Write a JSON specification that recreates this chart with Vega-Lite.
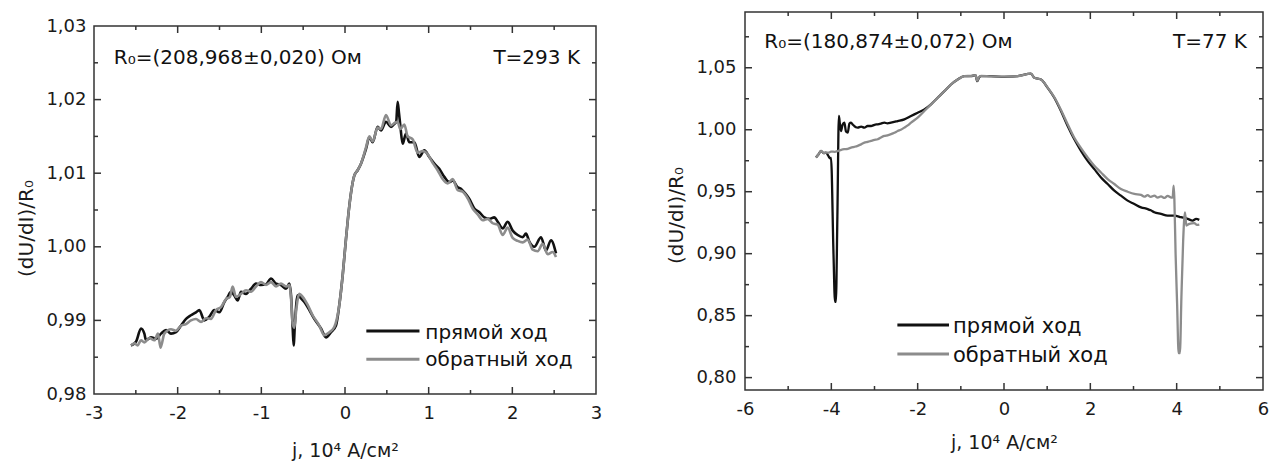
{
  "$schema": "https://vega.github.io/schema/vega-lite/v6.json",
  "background": "white",
  "padding": {"left": 15, "top": 10, "right": 3, "bottom": 3},
  "spacing": 62,
  "config": {
    "view": {"stroke": "#333333", "strokeWidth": 1.5},
    "font": "DejaVu Sans",
    "axis": {"labelFont": "DejaVu Sans", "titleFont": "DejaVu Sans", "ticks": false, "tickSize": 0, "domain": false, "grid": false, "labelColor": "#1a1a1a", "titleColor": "#1a1a1a", "titleFontWeight": "normal", "labelFlush": false, "labelOverlap": false}
  },
  "datasets": {
    "lxM": [{"t":-2},{"t":-1},{"t":0},{"t":1},{"t":2}],
    "lxm": [{"t":-2.5},{"t":-1.5},{"t":-0.5},{"t":0.5},{"t":1.5},{"t":2.5}],
    "lyM": [{"t":0.99},{"t":1.0},{"t":1.01},{"t":1.02}],
    "lym": [{"t":0.985},{"t":0.995},{"t":1.005},{"t":1.015},{"t":1.025}],
    "rxM": [{"t":-4},{"t":-2},{"t":0},{"t":2},{"t":4}],
    "rxm": [{"t":-5},{"t":-3},{"t":-1},{"t":1},{"t":3},{"t":5}],
    "ryM": [{"t":0.8},{"t":0.85},{"t":0.9},{"t":0.95},{"t":1.0},{"t":1.05}],
    "rym": [{"t":0.825},{"t":0.875},{"t":0.925},{"t":0.975},{"t":1.025},{"t":1.075}],
    "lf": [
      {"j":-2.558,"v":0.9866},{"j":-2.498,"v":0.9871},{"j":-2.438,"v":0.9889},{"j":-2.398,"v":0.9882},{"j":-2.378,"v":0.9873},{"j":-2.319,"v":0.9877},{"j":-2.259,"v":0.9875},{"j":-2.199,"v":0.9882},{"j":-2.139,"v":0.9887},{"j":-2.080,"v":0.9882},{"j":-2.020,"v":0.9884},{"j":-1.960,"v":0.9893},{"j":-1.900,"v":0.9902},{"j":-1.841,"v":0.9907},{"j":-1.781,"v":0.9911},{"j":-1.741,"v":0.9914},{"j":-1.681,"v":0.9900},{"j":-1.621,"v":0.9905},{"j":-1.562,"v":0.9914},{"j":-1.502,"v":0.9911},{"j":-1.442,"v":0.9925},{"j":-1.402,"v":0.9932},{"j":-1.363,"v":0.9939},{"j":-1.323,"v":0.9934},{"j":-1.283,"v":0.9927},{"j":-1.243,"v":0.9939},{"j":-1.183,"v":0.9936},{"j":-1.123,"v":0.9943},{"j":-1.064,"v":0.9950},{"j":-1.004,"v":0.9948},{"j":-0.944,"v":0.9949},{"j":-0.884,"v":0.9957},{"j":-0.825,"v":0.9950},{"j":-0.765,"v":0.9948},{"j":-0.705,"v":0.9943},{"j":-0.665,"v":0.9950},{"j":-0.645,"v":0.9934},{"j":-0.625,"v":0.9889},{"j":-0.614,"v":0.9866},{"j":-0.598,"v":0.9897},{"j":-0.566,"v":0.9934},{"j":-0.526,"v":0.9930},{"j":-0.486,"v":0.9925},{"j":-0.426,"v":0.9914},{"j":-0.367,"v":0.9902},{"j":-0.287,"v":0.9889},{"j":-0.227,"v":0.9877},{"j":-0.167,"v":0.9884},{"j":-0.108,"v":0.9893},{"j":-0.068,"v":0.9921},{"j":-0.028,"v":0.9961},{"j":0.012,"v":1.0011},{"j":0.052,"v":1.0056},{"j":0.112,"v":1.0097},{"j":0.151,"v":1.0104},{"j":0.191,"v":1.0113},{"j":0.251,"v":1.0133},{"j":0.291,"v":1.0149},{"j":0.331,"v":1.0142},{"j":0.390,"v":1.0163},{"j":0.430,"v":1.0158},{"j":0.490,"v":1.0170},{"j":0.550,"v":1.0163},{"j":0.590,"v":1.0167},{"j":0.612,"v":1.0170},{"j":0.629,"v":1.0197},{"j":0.645,"v":1.0182},{"j":0.661,"v":1.0165},{"j":0.689,"v":1.0140},{"j":0.729,"v":1.0154},{"j":0.769,"v":1.0142},{"j":0.829,"v":1.0142},{"j":0.888,"v":1.0122},{"j":0.948,"v":1.0131},{"j":1.008,"v":1.0122},{"j":1.068,"v":1.0113},{"j":1.127,"v":1.0106},{"j":1.187,"v":1.0095},{"j":1.247,"v":1.0088},{"j":1.287,"v":1.0090},{"j":1.347,"v":1.0081},{"j":1.386,"v":1.0079},{"j":1.426,"v":1.0074},{"j":1.486,"v":1.0065},{"j":1.546,"v":1.0052},{"j":1.606,"v":1.0047},{"j":1.665,"v":1.0040},{"j":1.725,"v":1.0038},{"j":1.785,"v":1.0040},{"j":1.825,"v":1.0034},{"j":1.885,"v":1.0025},{"j":1.944,"v":1.0034},{"j":2.004,"v":1.0022},{"j":2.064,"v":1.0016},{"j":2.124,"v":1.0013},{"j":2.163,"v":1.0018},{"j":2.203,"v":1.0007},{"j":2.263,"v":1.0000},{"j":2.343,"v":1.0013},{"j":2.402,"v":0.9995},{"j":2.462,"v":1.0009},{"j":2.522,"v":0.9991}
    ],
    "lr": [
      {"j":-2.558,"v":0.9866},{"j":-2.518,"v":0.9869},{"j":-2.478,"v":0.9866},{"j":-2.438,"v":0.9873},{"j":-2.398,"v":0.9870},{"j":-2.338,"v":0.9876},{"j":-2.278,"v":0.9873},{"j":-2.235,"v":0.9882},{"j":-2.205,"v":0.9863},{"j":-2.159,"v":0.9882},{"j":-2.080,"v":0.9888},{"j":-2.020,"v":0.9886},{"j":-1.960,"v":0.9893},{"j":-1.900,"v":0.9895},{"j":-1.841,"v":0.9900},{"j":-1.781,"v":0.9902},{"j":-1.721,"v":0.9898},{"j":-1.661,"v":0.9903},{"j":-1.602,"v":0.9902},{"j":-1.542,"v":0.9914},{"j":-1.482,"v":0.9918},{"j":-1.422,"v":0.9929},{"j":-1.375,"v":0.9932},{"j":-1.343,"v":0.9946},{"j":-1.303,"v":0.9932},{"j":-1.243,"v":0.9936},{"j":-1.183,"v":0.9941},{"j":-1.123,"v":0.9939},{"j":-1.064,"v":0.9946},{"j":-1.004,"v":0.9952},{"j":-0.944,"v":0.9948},{"j":-0.884,"v":0.9952},{"j":-0.825,"v":0.9946},{"j":-0.765,"v":0.9950},{"j":-0.705,"v":0.9946},{"j":-0.665,"v":0.9948},{"j":-0.645,"v":0.9930},{"j":-0.625,"v":0.9895},{"j":-0.605,"v":0.9890},{"j":-0.585,"v":0.9912},{"j":-0.546,"v":0.9936},{"j":-0.506,"v":0.9932},{"j":-0.446,"v":0.9921},{"j":-0.387,"v":0.9907},{"j":-0.307,"v":0.9893},{"j":-0.247,"v":0.9880},{"j":-0.187,"v":0.9884},{"j":-0.128,"v":0.9891},{"j":-0.068,"v":0.9921},{"j":-0.028,"v":0.9961},{"j":0.012,"v":1.0011},{"j":0.052,"v":1.0056},{"j":0.112,"v":1.0097},{"j":0.151,"v":1.0104},{"j":0.191,"v":1.0113},{"j":0.251,"v":1.0135},{"j":0.291,"v":1.0150},{"j":0.331,"v":1.0143},{"j":0.390,"v":1.0162},{"j":0.430,"v":1.0160},{"j":0.490,"v":1.0179},{"j":0.550,"v":1.0165},{"j":0.590,"v":1.0168},{"j":0.629,"v":1.0170},{"j":0.661,"v":1.0160},{"j":0.709,"v":1.0166},{"j":0.749,"v":1.0150},{"j":0.809,"v":1.0146},{"j":0.868,"v":1.0128},{"j":0.928,"v":1.0130},{"j":0.988,"v":1.0126},{"j":1.048,"v":1.0114},{"j":1.107,"v":1.0104},{"j":1.167,"v":1.0092},{"j":1.227,"v":1.0086},{"j":1.287,"v":1.0092},{"j":1.347,"v":1.0077},{"j":1.406,"v":1.0075},{"j":1.466,"v":1.0066},{"j":1.526,"v":1.0052},{"j":1.586,"v":1.0044},{"j":1.646,"v":1.0036},{"j":1.705,"v":1.0038},{"j":1.765,"v":1.0032},{"j":1.825,"v":1.0030},{"j":1.885,"v":1.0016},{"j":1.944,"v":1.0026},{"j":2.004,"v":1.0012},{"j":2.064,"v":1.0008},{"j":2.124,"v":1.0006},{"j":2.183,"v":1.0010},{"j":2.243,"v":0.9996},{"j":2.303,"v":0.9994},{"j":2.363,"v":1.0004},{"j":2.422,"v":0.9990},{"j":2.482,"v":0.9993},{"j":2.522,"v":0.9986}
    ],
    "rf": [
      {"j":-4.355,"v":0.9776},{"j":-4.300,"v":0.9800},{"j":-4.239,"v":0.9830},{"j":-4.180,"v":0.9812},{"j":-4.123,"v":0.9816},{"j":-4.069,"v":0.9789},{"j":-4.030,"v":0.9770},{"j":-4.007,"v":0.9772},{"j":-3.950,"v":0.9000},{"j":-3.915,"v":0.8611},{"j":-3.895,"v":0.8611},{"j":-3.860,"v":0.9300},{"j":-3.825,"v":1.0111},{"j":-3.800,"v":1.0040},{"j":-3.776,"v":0.9990},{"j":-3.740,"v":1.0040},{"j":-3.699,"v":1.0057},{"j":-3.660,"v":0.9985},{"j":-3.621,"v":0.9977},{"j":-3.580,"v":1.0050},{"j":-3.544,"v":1.0057},{"j":-3.500,"v":1.0040},{"j":-3.467,"v":1.0030},{"j":-3.430,"v":1.0020},{"j":-3.390,"v":1.0017},{"j":-3.310,"v":1.0025},{"j":-3.235,"v":1.0017},{"j":-3.160,"v":1.0030},{"j":-3.081,"v":1.0030},{"j":-3.000,"v":1.0040},{"j":-2.926,"v":1.0044},{"j":-2.850,"v":1.0050},{"j":-2.772,"v":1.0057},{"j":-2.700,"v":1.0052},{"j":-2.618,"v":1.0057},{"j":-2.463,"v":1.0070},{"j":-2.309,"v":1.0084},{"j":-2.154,"v":1.0111},{"j":-2.000,"v":1.0137},{"j":-1.845,"v":1.0164},{"j":-1.691,"v":1.0205},{"j":-1.537,"v":1.0258},{"j":-1.382,"v":1.0311},{"j":-1.228,"v":1.0365},{"j":-1.073,"v":1.0405},{"j":-0.919,"v":1.0432},{"j":-0.764,"v":1.0432},{"j":-0.660,"v":1.0440},{"j":-0.620,"v":1.0392},{"j":-0.580,"v":1.0420},{"j":-0.533,"v":1.0432},{"j":-0.301,"v":1.0432},{"j":0.008,"v":1.0426},{"j":0.317,"v":1.0432},{"j":0.625,"v":1.0453},{"j":0.703,"v":1.0419},{"j":0.857,"v":1.0405},{"j":1.012,"v":1.0338},{"j":1.166,"v":1.0258},{"j":1.320,"v":1.0151},{"j":1.475,"v":1.0030},{"j":1.629,"v":0.9923},{"j":1.784,"v":0.9830},{"j":1.938,"v":0.9749},{"j":2.092,"v":0.9682},{"j":2.247,"v":0.9615},{"j":2.401,"v":0.9562},{"j":2.556,"v":0.9508},{"j":2.710,"v":0.9468},{"j":2.864,"v":0.9428},{"j":3.019,"v":0.9401},{"j":3.174,"v":0.9374},{"j":3.328,"v":0.9360},{"j":3.400,"v":0.9350},{"j":3.482,"v":0.9334},{"j":3.637,"v":0.9321},{"j":3.791,"v":0.9307},{"j":3.946,"v":0.9307},{"j":4.100,"v":0.9294},{"j":4.255,"v":0.9281},{"j":4.370,"v":0.9267},{"j":4.450,"v":0.9281},{"j":4.524,"v":0.9273}
    ],
    "rr": [
      {"j":-4.355,"v":0.9776},{"j":-4.300,"v":0.9800},{"j":-4.239,"v":0.9830},{"j":-4.180,"v":0.9812},{"j":-4.123,"v":0.9816},{"j":-4.060,"v":0.9815},{"j":-4.007,"v":0.9824},{"j":-3.920,"v":0.9822},{"j":-3.838,"v":0.9830},{"j":-3.770,"v":0.9838},{"j":-3.699,"v":0.9843},{"j":-3.620,"v":0.9846},{"j":-3.544,"v":0.9856},{"j":-3.470,"v":0.9862},{"j":-3.390,"v":0.9870},{"j":-3.310,"v":0.9882},{"j":-3.235,"v":0.9896},{"j":-3.160,"v":0.9902},{"j":-3.081,"v":0.9910},{"j":-3.000,"v":0.9918},{"j":-2.926,"v":0.9923},{"j":-2.850,"v":0.9938},{"j":-2.772,"v":0.9950},{"j":-2.700,"v":0.9955},{"j":-2.618,"v":0.9964},{"j":-2.540,"v":0.9975},{"j":-2.463,"v":0.9990},{"j":-2.390,"v":1.0000},{"j":-2.309,"v":1.0017},{"j":-2.230,"v":1.0035},{"j":-2.154,"v":1.0057},{"j":-2.000,"v":1.0097},{"j":-1.845,"v":1.0151},{"j":-1.691,"v":1.0205},{"j":-1.537,"v":1.0258},{"j":-1.382,"v":1.0311},{"j":-1.228,"v":1.0365},{"j":-1.073,"v":1.0405},{"j":-0.919,"v":1.0432},{"j":-0.764,"v":1.0435},{"j":-0.660,"v":1.0440},{"j":-0.620,"v":1.0395},{"j":-0.580,"v":1.0425},{"j":-0.533,"v":1.0435},{"j":-0.301,"v":1.0430},{"j":0.008,"v":1.0428},{"j":0.317,"v":1.0432},{"j":0.625,"v":1.0453},{"j":0.703,"v":1.0419},{"j":0.857,"v":1.0405},{"j":1.012,"v":1.0340},{"j":1.166,"v":1.0262},{"j":1.320,"v":1.0160},{"j":1.475,"v":1.0045},{"j":1.629,"v":0.9935},{"j":1.784,"v":0.9851},{"j":1.938,"v":0.9776},{"j":2.092,"v":0.9709},{"j":2.247,"v":0.9655},{"j":2.401,"v":0.9602},{"j":2.556,"v":0.9562},{"j":2.710,"v":0.9522},{"j":2.864,"v":0.9500},{"j":3.019,"v":0.9482},{"j":3.174,"v":0.9474},{"j":3.250,"v":0.9460},{"j":3.328,"v":0.9472},{"j":3.400,"v":0.9458},{"j":3.482,"v":0.9468},{"j":3.560,"v":0.9452},{"j":3.637,"v":0.9462},{"j":3.720,"v":0.9450},{"j":3.791,"v":0.9466},{"j":3.880,"v":0.9452},{"j":3.907,"v":0.9455},{"j":3.930,"v":0.9548},{"j":3.946,"v":0.9450},{"j":3.975,"v":0.9000},{"j":4.010,"v":0.8600},{"j":4.045,"v":0.8197},{"j":4.075,"v":0.8197},{"j":4.110,"v":0.8650},{"j":4.150,"v":0.9100},{"j":4.193,"v":0.9334},{"j":4.224,"v":0.9227},{"j":4.293,"v":0.9241},{"j":4.409,"v":0.9246},{"j":4.470,"v":0.9232},{"j":4.524,"v":0.9235}
    ]
  },
  "hconcat": [
    {
      "spacing": 0,
      "vconcat": [
        {
          "width": 502,
          "height": 4,
          "view": {"stroke": null, "fill": "#ffffff"},
          "data": {"values": []},
          "mark": "point"
        },
        {
          "width": 502,
          "height": 368,
          "layer": [
            {
              "data": {"name": "lf"},
              "mark": {"type": "line", "color": "#111111", "strokeWidth": 2.6, "interpolate": "monotone"},
              "encoding": {
                "x": {"field": "j", "type": "quantitative", "scale": {"domain": [-3, 3], "nice": false, "zero": false},
                  "axis": {"orient": "bottom", "values": [-3, -2, -1, 0, 1, 2, 3], "labelExpr": "'' + datum.value", "labelFontSize": 18, "labelPadding": 10, "title": "j, 10⁴ A/см²", "titleFontSize": 19, "titleY": 62, "titleBaseline": "alphabetic"}},
                "y": {"field": "v", "type": "quantitative", "scale": {"domain": [0.98, 1.03], "nice": false, "zero": false},
                  "axis": {"orient": "left", "values": [0.98, 0.99, 1.0, 1.01, 1.02, 1.03], "labelExpr": "replace(format(datum.value, '.2f'), '.', ',')", "labelFontSize": 18, "labelPadding": 8, "title": "(dU/dI)/R₀", "titleFontSize": 20, "titleX": -68, "titleY": 202, "titleBaseline": "middle"}}
              }
            },
            {
              "data": {"name": "lr"},
              "mark": {"type": "line", "color": "#8c8c8c", "strokeWidth": 2.6, "interpolate": "monotone"},
              "encoding": {
                "x": {"field": "j", "type": "quantitative", "axis": null},
                "y": {"field": "v", "type": "quantitative", "axis": null}
              }
            },
            {"data": {"name": "lxM"}, "mark": {"type": "rule", "color": "#333333", "strokeWidth": 1.5},
             "encoding": {"x": {"field": "t", "type": "quantitative", "axis": null}, "y": {"datum": 0.98, "type": "quantitative", "axis": null}, "y2": {"datum": 0.98095}}},
            {"data": {"name": "lxM"}, "mark": {"type": "rule", "color": "#333333", "strokeWidth": 1.5},
             "encoding": {"x": {"field": "t", "type": "quantitative", "axis": null}, "y": {"datum": 1.03, "type": "quantitative", "axis": null}, "y2": {"datum": 1.02905}}},
            {"data": {"name": "lxm"}, "mark": {"type": "rule", "color": "#333333", "strokeWidth": 1.5},
             "encoding": {"x": {"field": "t", "type": "quantitative", "axis": null}, "y": {"datum": 0.98, "type": "quantitative", "axis": null}, "y2": {"datum": 0.98054}}},
            {"data": {"name": "lxm"}, "mark": {"type": "rule", "color": "#333333", "strokeWidth": 1.5},
             "encoding": {"x": {"field": "t", "type": "quantitative", "axis": null}, "y": {"datum": 1.03, "type": "quantitative", "axis": null}, "y2": {"datum": 1.02946}}},
            {"data": {"name": "lyM"}, "mark": {"type": "rule", "color": "#333333", "strokeWidth": 1.5},
             "encoding": {"y": {"field": "t", "type": "quantitative", "axis": null}, "x": {"datum": -3, "type": "quantitative", "axis": null}, "x2": {"datum": -2.9163}}},
            {"data": {"name": "lyM"}, "mark": {"type": "rule", "color": "#333333", "strokeWidth": 1.5},
             "encoding": {"y": {"field": "t", "type": "quantitative", "axis": null}, "x": {"datum": 3, "type": "quantitative", "axis": null}, "x2": {"datum": 2.9163}}},
            {"data": {"name": "lym"}, "mark": {"type": "rule", "color": "#333333", "strokeWidth": 1.5},
             "encoding": {"y": {"field": "t", "type": "quantitative", "axis": null}, "x": {"datum": -3, "type": "quantitative", "axis": null}, "x2": {"datum": -2.9522}}},
            {"data": {"name": "lym"}, "mark": {"type": "rule", "color": "#333333", "strokeWidth": 1.5},
             "encoding": {"y": {"field": "t", "type": "quantitative", "axis": null}, "x": {"datum": 3, "type": "quantitative", "axis": null}, "x2": {"datum": 2.9522}}},
            {
              "data": {"values": [{}]},
              "mark": {"type": "text", "text": "R₀=(208,968±0,020) Ом", "align": "left", "baseline": "alphabetic", "fontSize": 20, "color": "#111111"},
              "encoding": {"x": {"datum": -2.764, "type": "quantitative", "axis": null}, "y": {"datum": 1.0249, "type": "quantitative", "axis": null}}
            },
            {
              "data": {"values": [{}]},
              "mark": {"type": "text", "text": "T=293 K", "align": "right", "baseline": "alphabetic", "fontSize": 20, "color": "#111111"},
              "encoding": {"x": {"datum": 2.809, "type": "quantitative", "axis": null}, "y": {"datum": 1.0249, "type": "quantitative", "axis": null}}
            },
            {
              "data": {"values": [{}]},
              "mark": {"type": "rule", "color": "#111111", "strokeWidth": 3},
              "encoding": {"x": {"datum": 0.255, "type": "quantitative", "axis": null}, "x2": {"datum": 0.89}, "y": {"datum": 0.98856, "type": "quantitative", "axis": null}}
            },
            {
              "data": {"values": [{}]},
              "mark": {"type": "rule", "color": "#8c8c8c", "strokeWidth": 3},
              "encoding": {"x": {"datum": 0.255, "type": "quantitative", "axis": null}, "x2": {"datum": 0.89}, "y": {"datum": 0.98471, "type": "quantitative", "axis": null}}
            },
            {
              "data": {"values": [{}]},
              "mark": {"type": "text", "text": "прямой ход", "align": "left", "baseline": "alphabetic", "fontSize": 20, "color": "#111111"},
              "encoding": {"x": {"datum": 0.96, "type": "quantitative", "axis": null}, "y": {"datum": 0.98747, "type": "quantitative", "axis": null}}
            },
            {
              "data": {"values": [{}]},
              "mark": {"type": "text", "text": "обратный ход", "align": "left", "baseline": "alphabetic", "fontSize": 20, "color": "#111111"},
              "encoding": {"x": {"datum": 0.96, "type": "quantitative", "axis": null}, "y": {"datum": 0.98376, "type": "quantitative", "axis": null}}
            }
          ],
          "resolve": {"axis": {"x": "independent", "y": "independent"}}
        }
      ]
    },
    {
      "width": 518,
      "height": 378,
      "layer": [
        {
          "data": {"name": "rf"},
          "mark": {"type": "line", "color": "#111111", "strokeWidth": 2.3, "interpolate": "monotone"},
          "encoding": {
            "x": {"field": "j", "type": "quantitative", "scale": {"domain": [-6, 6], "nice": false, "zero": false},
              "axis": {"orient": "bottom", "values": [-6, -4, -2, 0, 2, 4, 6], "labelExpr": "'' + datum.value", "labelFontSize": 18, "labelPadding": 10, "title": "j, 10⁴ A/см²", "titleFontSize": 19, "titleY": 58, "titleBaseline": "alphabetic"}},
            "y": {"field": "v", "type": "quantitative", "scale": {"domain": [0.79, 1.095], "nice": false, "zero": false},
              "axis": {"orient": "left", "values": [0.8, 0.85, 0.9, 0.95, 1.0, 1.05], "labelExpr": "replace(format(datum.value, '.2f'), '.', ',')", "labelFontSize": 18, "labelPadding": 9, "title": "(dU/dI)/R₀", "titleFontSize": 20, "titleX": -68.5, "titleY": 203, "titleBaseline": "middle"}}
          }
        },
        {
          "data": {"name": "rr"},
          "mark": {"type": "line", "color": "#8c8c8c", "strokeWidth": 2.3, "interpolate": "monotone"},
          "encoding": {
            "x": {"field": "j", "type": "quantitative", "axis": null},
            "y": {"field": "v", "type": "quantitative", "axis": null}
          }
        },
        {"data": {"name": "rxM"}, "mark": {"type": "rule", "color": "#333333", "strokeWidth": 1.5},
         "encoding": {"x": {"field": "t", "type": "quantitative", "axis": null}, "y": {"datum": 0.79, "type": "quantitative", "axis": null}, "y2": {"datum": 0.79565}}},
        {"data": {"name": "rxM"}, "mark": {"type": "rule", "color": "#333333", "strokeWidth": 1.5},
         "encoding": {"x": {"field": "t", "type": "quantitative", "axis": null}, "y": {"datum": 1.095, "type": "quantitative", "axis": null}, "y2": {"datum": 1.08935}}},
        {"data": {"name": "rxm"}, "mark": {"type": "rule", "color": "#333333", "strokeWidth": 1.5},
         "encoding": {"x": {"field": "t", "type": "quantitative", "axis": null}, "y": {"datum": 0.79, "type": "quantitative", "axis": null}, "y2": {"datum": 0.79323}}},
        {"data": {"name": "rxm"}, "mark": {"type": "rule", "color": "#333333", "strokeWidth": 1.5},
         "encoding": {"x": {"field": "t", "type": "quantitative", "axis": null}, "y": {"datum": 1.095, "type": "quantitative", "axis": null}, "y2": {"datum": 1.09177}}},
        {"data": {"name": "ryM"}, "mark": {"type": "rule", "color": "#333333", "strokeWidth": 1.5},
         "encoding": {"y": {"field": "t", "type": "quantitative", "axis": null}, "x": {"datum": -6, "type": "quantitative", "axis": null}, "x2": {"datum": -5.8378}}},
        {"data": {"name": "ryM"}, "mark": {"type": "rule", "color": "#333333", "strokeWidth": 1.5},
         "encoding": {"y": {"field": "t", "type": "quantitative", "axis": null}, "x": {"datum": 6, "type": "quantitative", "axis": null}, "x2": {"datum": 5.8378}}},
        {"data": {"name": "rym"}, "mark": {"type": "rule", "color": "#333333", "strokeWidth": 1.5},
         "encoding": {"y": {"field": "t", "type": "quantitative", "axis": null}, "x": {"datum": -6, "type": "quantitative", "axis": null}, "x2": {"datum": -5.9073}}},
        {"data": {"name": "rym"}, "mark": {"type": "rule", "color": "#333333", "strokeWidth": 1.5},
         "encoding": {"y": {"field": "t", "type": "quantitative", "axis": null}, "x": {"datum": 6, "type": "quantitative", "axis": null}, "x2": {"datum": 5.9073}}},
        {
          "data": {"values": [{}]},
          "mark": {"type": "text", "text": "R₀=(180,874±0,072) Ом", "align": "left", "baseline": "alphabetic", "fontSize": 20, "color": "#111111"},
          "encoding": {"x": {"datum": -5.553, "type": "quantitative", "axis": null}, "y": {"datum": 1.0659, "type": "quantitative", "axis": null}}
        },
        {
          "data": {"values": [{}]},
          "mark": {"type": "text", "text": "T=77 K", "align": "right", "baseline": "alphabetic", "fontSize": 20, "color": "#111111"},
          "encoding": {"x": {"datum": 5.629, "type": "quantitative", "axis": null}, "y": {"datum": 1.0659, "type": "quantitative", "axis": null}}
        },
        {
          "data": {"values": [{}]},
          "mark": {"type": "rule", "color": "#111111", "strokeWidth": 3},
          "encoding": {"x": {"datum": -2.47, "type": "quantitative", "axis": null}, "x2": {"datum": -1.274}, "y": {"datum": 0.8424, "type": "quantitative", "axis": null}}
        },
        {
          "data": {"values": [{}]},
          "mark": {"type": "rule", "color": "#8c8c8c", "strokeWidth": 3},
          "encoding": {"x": {"datum": -2.47, "type": "quantitative", "axis": null}, "x2": {"datum": -1.274}, "y": {"datum": 0.8191, "type": "quantitative", "axis": null}}
        },
        {
          "data": {"values": [{}]},
          "mark": {"type": "text", "text": "прямой ход", "align": "left", "baseline": "alphabetic", "fontSize": 21, "color": "#111111"},
          "encoding": {"x": {"datum": -1.181, "type": "quantitative", "axis": null}, "y": {"datum": 0.8362, "type": "quantitative", "axis": null}}
        },
        {
          "data": {"values": [{}]},
          "mark": {"type": "text", "text": "обратный ход", "align": "left", "baseline": "alphabetic", "fontSize": 21, "color": "#111111"},
          "encoding": {"x": {"datum": -1.181, "type": "quantitative", "axis": null}, "y": {"datum": 0.8129, "type": "quantitative", "axis": null}}
        }
      ],
      "resolve": {"axis": {"x": "independent", "y": "independent"}}
    }
  ]
}
